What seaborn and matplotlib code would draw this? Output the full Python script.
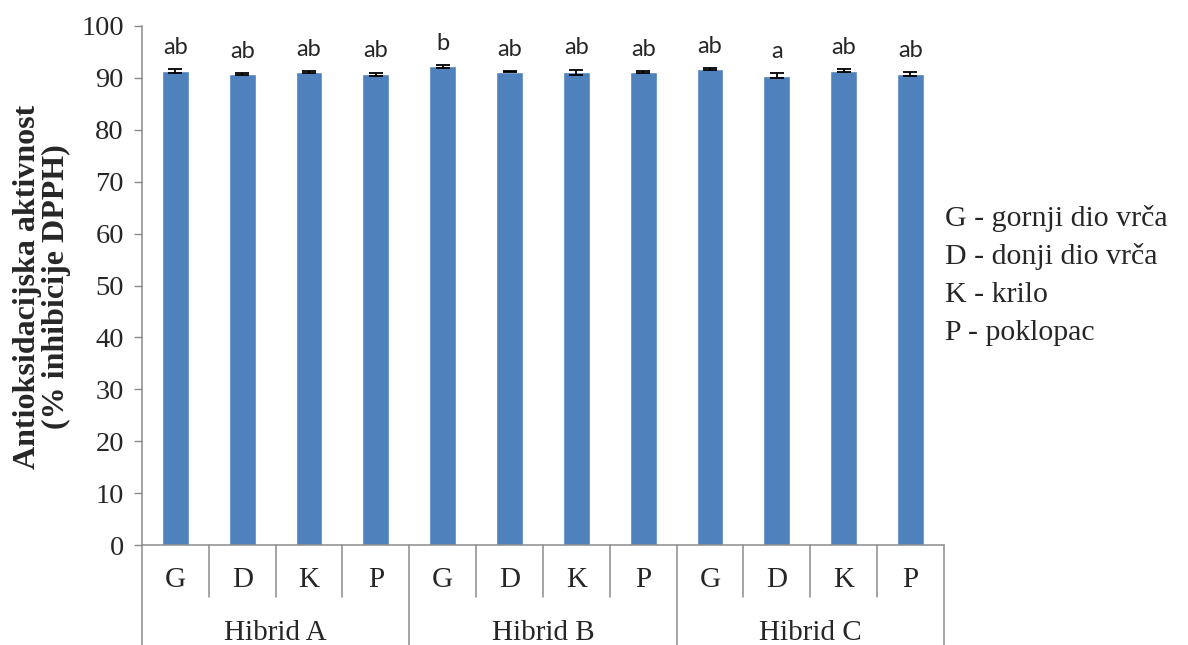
import numpy as np
import pandas as pd
import seaborn as sns
import matplotlib.pyplot as plt
import matplotlib.transforms as mtransforms

# Podaci (procijenjeno sa slike)
hibridi = ['Hibrid A', 'Hibrid B', 'Hibrid C']
dijelovi = ['G', 'D', 'K', 'P']
vrijednosti = [91.3, 90.75, 91.1, 90.7, 92.2, 91.2, 91.1, 91.1, 91.7, 90.4, 91.4, 90.75]
greske = [0.4, 0.2, 0.2, 0.3, 0.3, 0.15, 0.5, 0.15, 0.15, 0.5, 0.35, 0.4]
slova = ['ab', 'ab', 'ab', 'ab', 'b', 'ab', 'ab', 'ab', 'ab', 'a', 'ab', 'ab']
legenda = ['G - gornji dio vrča', 'D - donji dio vrča', 'K - krilo', 'P - poklopac']

df = pd.DataFrame({
    'hibrid': np.repeat(hibridi, len(dijelovi)),
    'dio': np.tile(dijelovi, len(hibridi)),
    'vrijednost': vrijednosti,
    'greska': greske,
})
df['kljuc'] = df['hibrid'] + ' ' + df['dio']

sns.set_style('white')
plt.rcParams['font.family'] = ['Liberation Serif', 'DejaVu Serif']

siva = '#8c8c8c'
fig = plt.figure(figsize=(11.88, 6.45), dpi=100)
ax = fig.add_axes([0.1195, 0.155, 0.675, 0.8047])

sns.barplot(data=df, x='kljuc', y='vrijednost', color='#4F81BD', width=0.4,
            errorbar=None, saturation=1, ax=ax)
pos = np.arange(len(df))
ax.errorbar(pos, df['vrijednost'], yerr=df['greska'], fmt='none',
            ecolor='black', elinewidth=1.3, capsize=5, capthick=1.3)

for i, (v, e, s) in enumerate(zip(df['vrijednost'], df['greska'], slova)):
    ax.annotate(s, (i, v + e), xytext=(0, 11), textcoords='offset points',
                ha='center', va='baseline', fontsize=17, family='Lato')

ax.set_ylim(0, 100)
ax.set_xlim(-0.5, len(df) - 0.5)
ax.set_yticks(range(0, 101, 10))
ax.tick_params(axis='y', labelsize=20.5, length=6, width=1, color=siva, pad=7, direction='out', left=True)
ax.set_xticks([])
ax.set_xlabel('')
ax.set_ylabel('')
for sp in ['top', 'right']:
    ax.spines[sp].set_visible(False)
for sp in ['left', 'bottom']:
    ax.spines[sp].set_color(siva)
    ax.spines[sp].set_linewidth(1.1)

# kategorijska os u dvije razine
tr = mtransforms.blended_transform_factory(ax.transData, ax.transAxes)
for i in range(len(df) + 1):
    x = i - 0.5
    kraj = -0.193 if i % len(dijelovi) == 0 else -0.1
    ax.plot([x, x], [0, kraj], transform=tr, clip_on=False, color=siva, lw=1.1)
for i, d in enumerate(df['dio']):
    ax.text(i, -0.067, d, transform=tr, ha='center', va='center', fontsize=21)
for j, h in enumerate(hibridi):
    sredina = j * len(dijelovi) + (len(dijelovi) - 1) / 2
    ax.text(sredina, -0.17, h, transform=tr, ha='center', va='center', fontsize=21)

fig.text(42 / 1188, 1 - 287 / 645, 'Antioksidacijska aktivnost\n(% inhibicije DPPH)',
         rotation=90, ha='center', va='center', fontsize=23, fontweight='bold',
         multialignment='center', linespacing=1.0)

for k, t in enumerate(legenda):
    fig.text(945 / 1188, 1 - (218 + 38.5 * k) / 645, t, ha='left', va='center', fontsize=21.5)

fig.savefig('out.png', dpi=100)
